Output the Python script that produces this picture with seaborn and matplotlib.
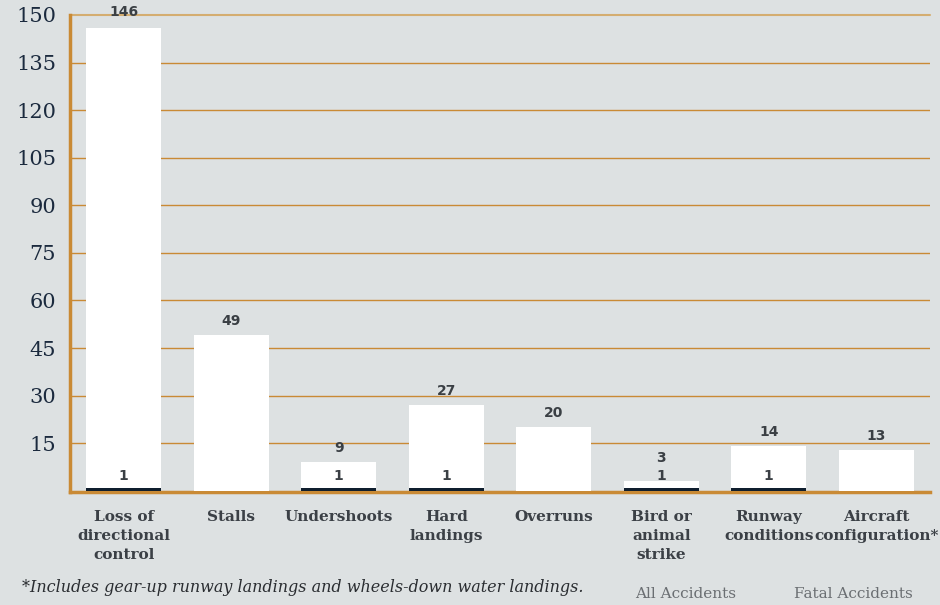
import numpy as np
import pandas as pd
import seaborn as sns
import matplotlib.pyplot as plt

# accident categories and counts
categories = ["Loss of\ndirectional\ncontrol", "Stalls", "Undershoots", "Hard\nlandings",
              "Overruns", "Bird or\nanimal\nstrike", "Runway\nconditions", "Aircraft\nconfiguration*"]
all_accidents = [146, 49, 9, 27, 20, 3, 14, 13]
fatal_accidents = [1, 0, 1, 1, 0, 1, 1, 0]
y_ticks = [15, 30, 45, 60, 75, 90, 105, 120, 135, 150]

bg = "#dde1e2"
orange = "#c98a35"
navy = "#0f1e2e"

sns.set_style("white")
plt.rcParams['font.family'] = ['DejaVu Serif', 'DejaVu Sans']

fig = plt.figure(figsize=(9.4, 6.05), dpi=100, facecolor=bg)
ax = fig.add_axes([70/940, 1-492/605, 860/940, 477/605])
ax.set_facecolor(bg)

df = pd.DataFrame({"cat": categories, "all": all_accidents, "fatal": fatal_accidents})

for y in y_ticks[:-1]:
    ax.axhline(y, color=orange, lw=1, zorder=0)
ax.axhline(150, color="#d4ad70", lw=1.5, zorder=0, clip_on=False)

sns.barplot(data=df, x="cat", y="all", order=categories, color="white", width=0.7,
            saturation=1, linewidth=0, ax=ax, zorder=2)
sns.barplot(data=df, x="cat", y="fatal", order=categories, color=navy, width=0.7,
            saturation=1, linewidth=0, ax=ax, zorder=3)

ax.set_ylim(-0.4, 150)
ax.set_xlim(-0.5, len(categories) - 0.5)
ax.set_yticks(y_ticks)
ax.set_yticklabels([str(v) for v in y_ticks], fontsize=15, color="#1b2a3e")
ax.tick_params(axis="y", length=0, pad=10)
ax.tick_params(axis="x", length=0, pad=13)
ax.set_xticks(range(len(categories)))
ax.set_xticklabels(categories, fontsize=11, fontweight="bold", color="#3b4046",
                   linespacing=1.45, va="top")
ax.set_xlabel("")
ax.set_ylabel("")

for s in ["top", "right"]:
    ax.spines[s].set_visible(False)
for s in ["left", "bottom"]:
    ax.spines[s].set_color(orange)
    ax.spines[s].set_linewidth(2.5)
    ax.spines[s].set_zorder(1)

# value labels
for i, (a, f) in enumerate(zip(all_accidents, fatal_accidents)):
    off = 10 if a > 5 else 17
    if a > 140:
        off = 11
    ax.annotate(str(a), (i, a), xytext=(0, off), textcoords="offset points",
                ha="center", va="center", fontsize=10, fontweight="bold",
                color="#3a3f44", family="DejaVu Sans", annotation_clip=False)
    if f > 0:
        ax.annotate(str(f), (i, f), xytext=(0, 8), textcoords="offset points",
                    ha="center", va="center", fontsize=10, fontweight="bold",
                    color="#3a3f44", family="DejaVu Sans")

fig.text(22/940, 1-588/605, "*Includes gear-up runway landings and wheels-down water landings.",
         fontsize=11.5, style="italic", color="#2a2d31", va="center")
fig.text(686/940, 1-594/605, "All Accidents", fontsize=11, color="#6a6e72",
         ha="center", va="center")
fig.text(853/940, 1-594/605, "Fatal Accidents", fontsize=11, color="#6a6e72",
         ha="center", va="center")

plt.savefig("out.png", dpi=100, facecolor=bg)
